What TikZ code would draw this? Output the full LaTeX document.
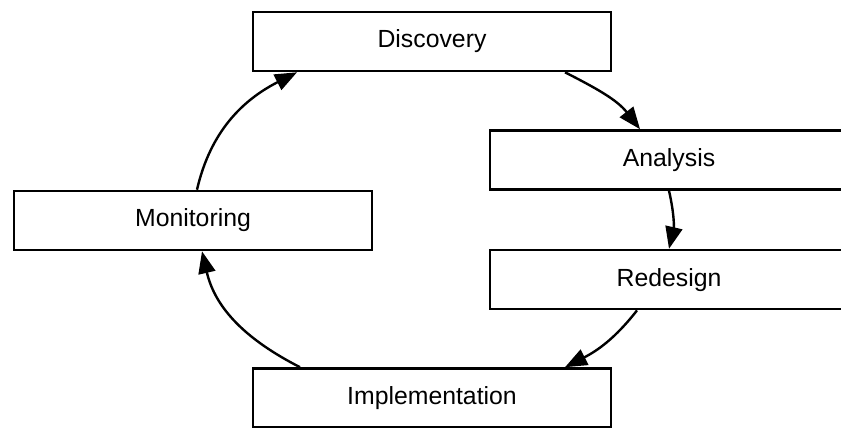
\documentclass[tikz,border=0pt]{standalone}
\usepackage{fontspec}
\setmainfont{Liberation Sans}
\usetikzlibrary{arrows.meta,positioning}

\begin{document}
\begin{tikzpicture}[x=1pt,y=1pt]
	\tikzset{stage/.style={draw,line width=1.3pt,minimum width=179pt,minimum height=29.5pt,inner sep=0pt,font=\fontsize{12.4}{15}\selectfont}}
	\tikzset{cycle/.style={-{Triangle[length=11pt,width=8.5pt]},line width=1.2pt}}
	\useasboundingbox (0,0) rectangle (420.5,214);
	% the five stages
	\node[stage] (disc) at (216,193.25) {Discovery};
	\node[stage] (ana) at (334.5,134) {Analysis};
	\node[stage,below=29pt of ana] (red) {Redesign};
	\node[stage] (mon) at (96.5,103.75) {Monitoring};
	\node[stage] (impl) at (216,15) {Implementation};
	% arcs round the cycle
	\draw[cycle] ([xshift=66.5pt]disc.south) to[out=-27,in=128] ([xshift=-14.5pt]ana.north);
	\draw[cycle] (ana.south) to[out=-77,in=77] (red.north);
	\draw[cycle] ([xshift=-16pt]red.south) to[out=-128,in=27] ([xshift=66.5pt]impl.north);
	\draw[cycle] ([xshift=-66pt]impl.north) to[out=153,in=-77] ([xshift=4.5pt]mon.south);
	\draw[cycle] ([xshift=2pt]mon.north) to[out=77,in=-153] ([xshift=-67.5pt]disc.south);
\end{tikzpicture}
\end{document}
